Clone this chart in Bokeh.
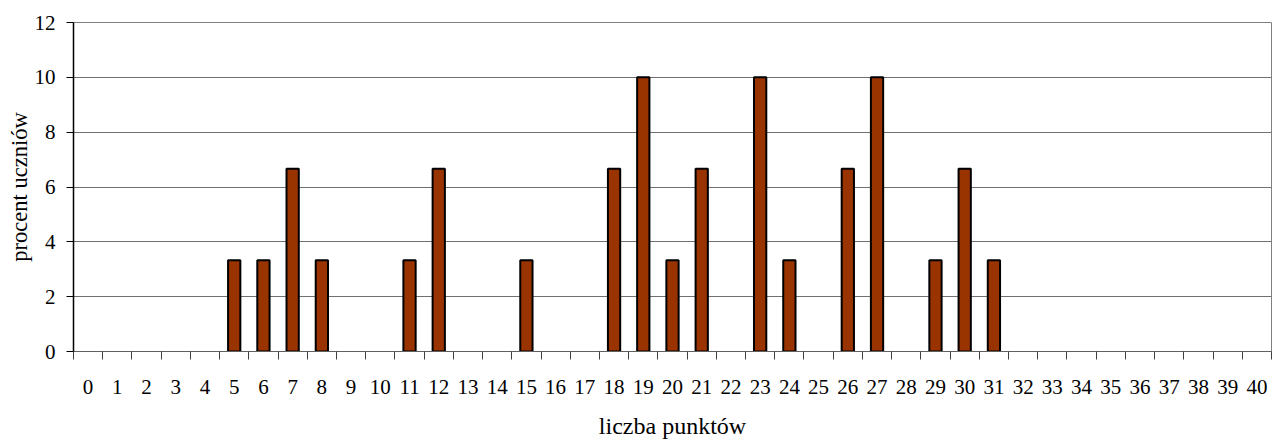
from bokeh.plotting import figure
from bokeh.models import FixedTicker, ColumnDataSource
from bokeh.embed import file_html
from bokeh.resources import INLINE

points = list(range(0, 41))
bar_points = [5, 6, 7, 8, 11, 12, 15, 18, 19, 20, 21, 23, 24, 26, 27, 29, 30, 31]
bar_percent = [3.33, 3.33, 6.67, 3.33, 3.33, 6.67, 3.33, 6.67, 10.0, 3.33, 6.67,
               10.0, 3.33, 6.67, 10.0, 3.33, 6.67, 3.33]
y_ticks = [0, 2, 4, 6, 8, 10, 12]
x_label = "liczba punktów"
y_label = "procent uczniów"

src = ColumnDataSource(dict(x=bar_points, top=bar_percent))

p = figure(width=1272, height=441, output_backend="svg", toolbar_location=None,
           x_range=(points[0] - 0.5, points[-1] + 0.5), y_range=(0, 12),
           min_border_left=73, min_border_right=1, min_border_top=22, min_border_bottom=89)

p.vbar(x="x", top="top", bottom=0, width=0.42, source=src,
       fill_color="#993300", line_color="black", line_width=2)

font = "Liberation Serif"
# x axis
p.xaxis.ticker = FixedTicker(ticks=points, minor_ticks=[v - 0.5 for v in points] + [points[-1] + 0.5])
p.xaxis.major_tick_line_color = None
p.xaxis.minor_tick_out = 8
p.xaxis.minor_tick_in = 0
p.xaxis.minor_tick_line_color = "#404040"
p.xaxis.axis_line_color = "#606060"
p.xaxis.major_label_text_font = font
p.xaxis.major_label_text_font_size = "21px"
p.xaxis.major_label_text_color = "black"
p.xaxis.major_label_standoff = 20
p.xaxis.axis_label = x_label
p.xaxis.axis_label_text_font = font
p.xaxis.axis_label_text_font_size = "24px"
p.xaxis.axis_label_text_font_style = "normal"
p.xaxis.axis_label_text_color = "black"
p.xaxis.axis_label_standoff = 16

# y axis
p.yaxis.ticker = FixedTicker(ticks=y_ticks)
p.yaxis.minor_tick_line_color = None
p.yaxis.major_tick_out = 7
p.yaxis.major_tick_in = 0
p.yaxis.major_tick_line_color = "black"
p.yaxis.axis_line_color = "black"
p.yaxis.axis_line_width = 1.5
p.yaxis.major_label_text_font = font
p.yaxis.major_label_text_font_size = "21px"
p.yaxis.major_label_text_color = "black"
p.yaxis.major_label_standoff = 11
p.yaxis.axis_label = y_label
p.yaxis.axis_label_text_font = font
p.yaxis.axis_label_text_font_size = "22.5px"
p.yaxis.axis_label_text_font_style = "normal"
p.yaxis.axis_label_text_color = "black"
p.yaxis.axis_label_standoff = 0

p.xgrid.grid_line_color = None
p.ygrid.ticker = FixedTicker(ticks=y_ticks)
p.ygrid.grid_line_color = "#707070"
p.ygrid.grid_line_width = 1
p.outline_line_color = "#808080"
p.background_fill_color = "white"
p.border_fill_color = "white"

open("out.html", "w").write(file_html(p, INLINE))
